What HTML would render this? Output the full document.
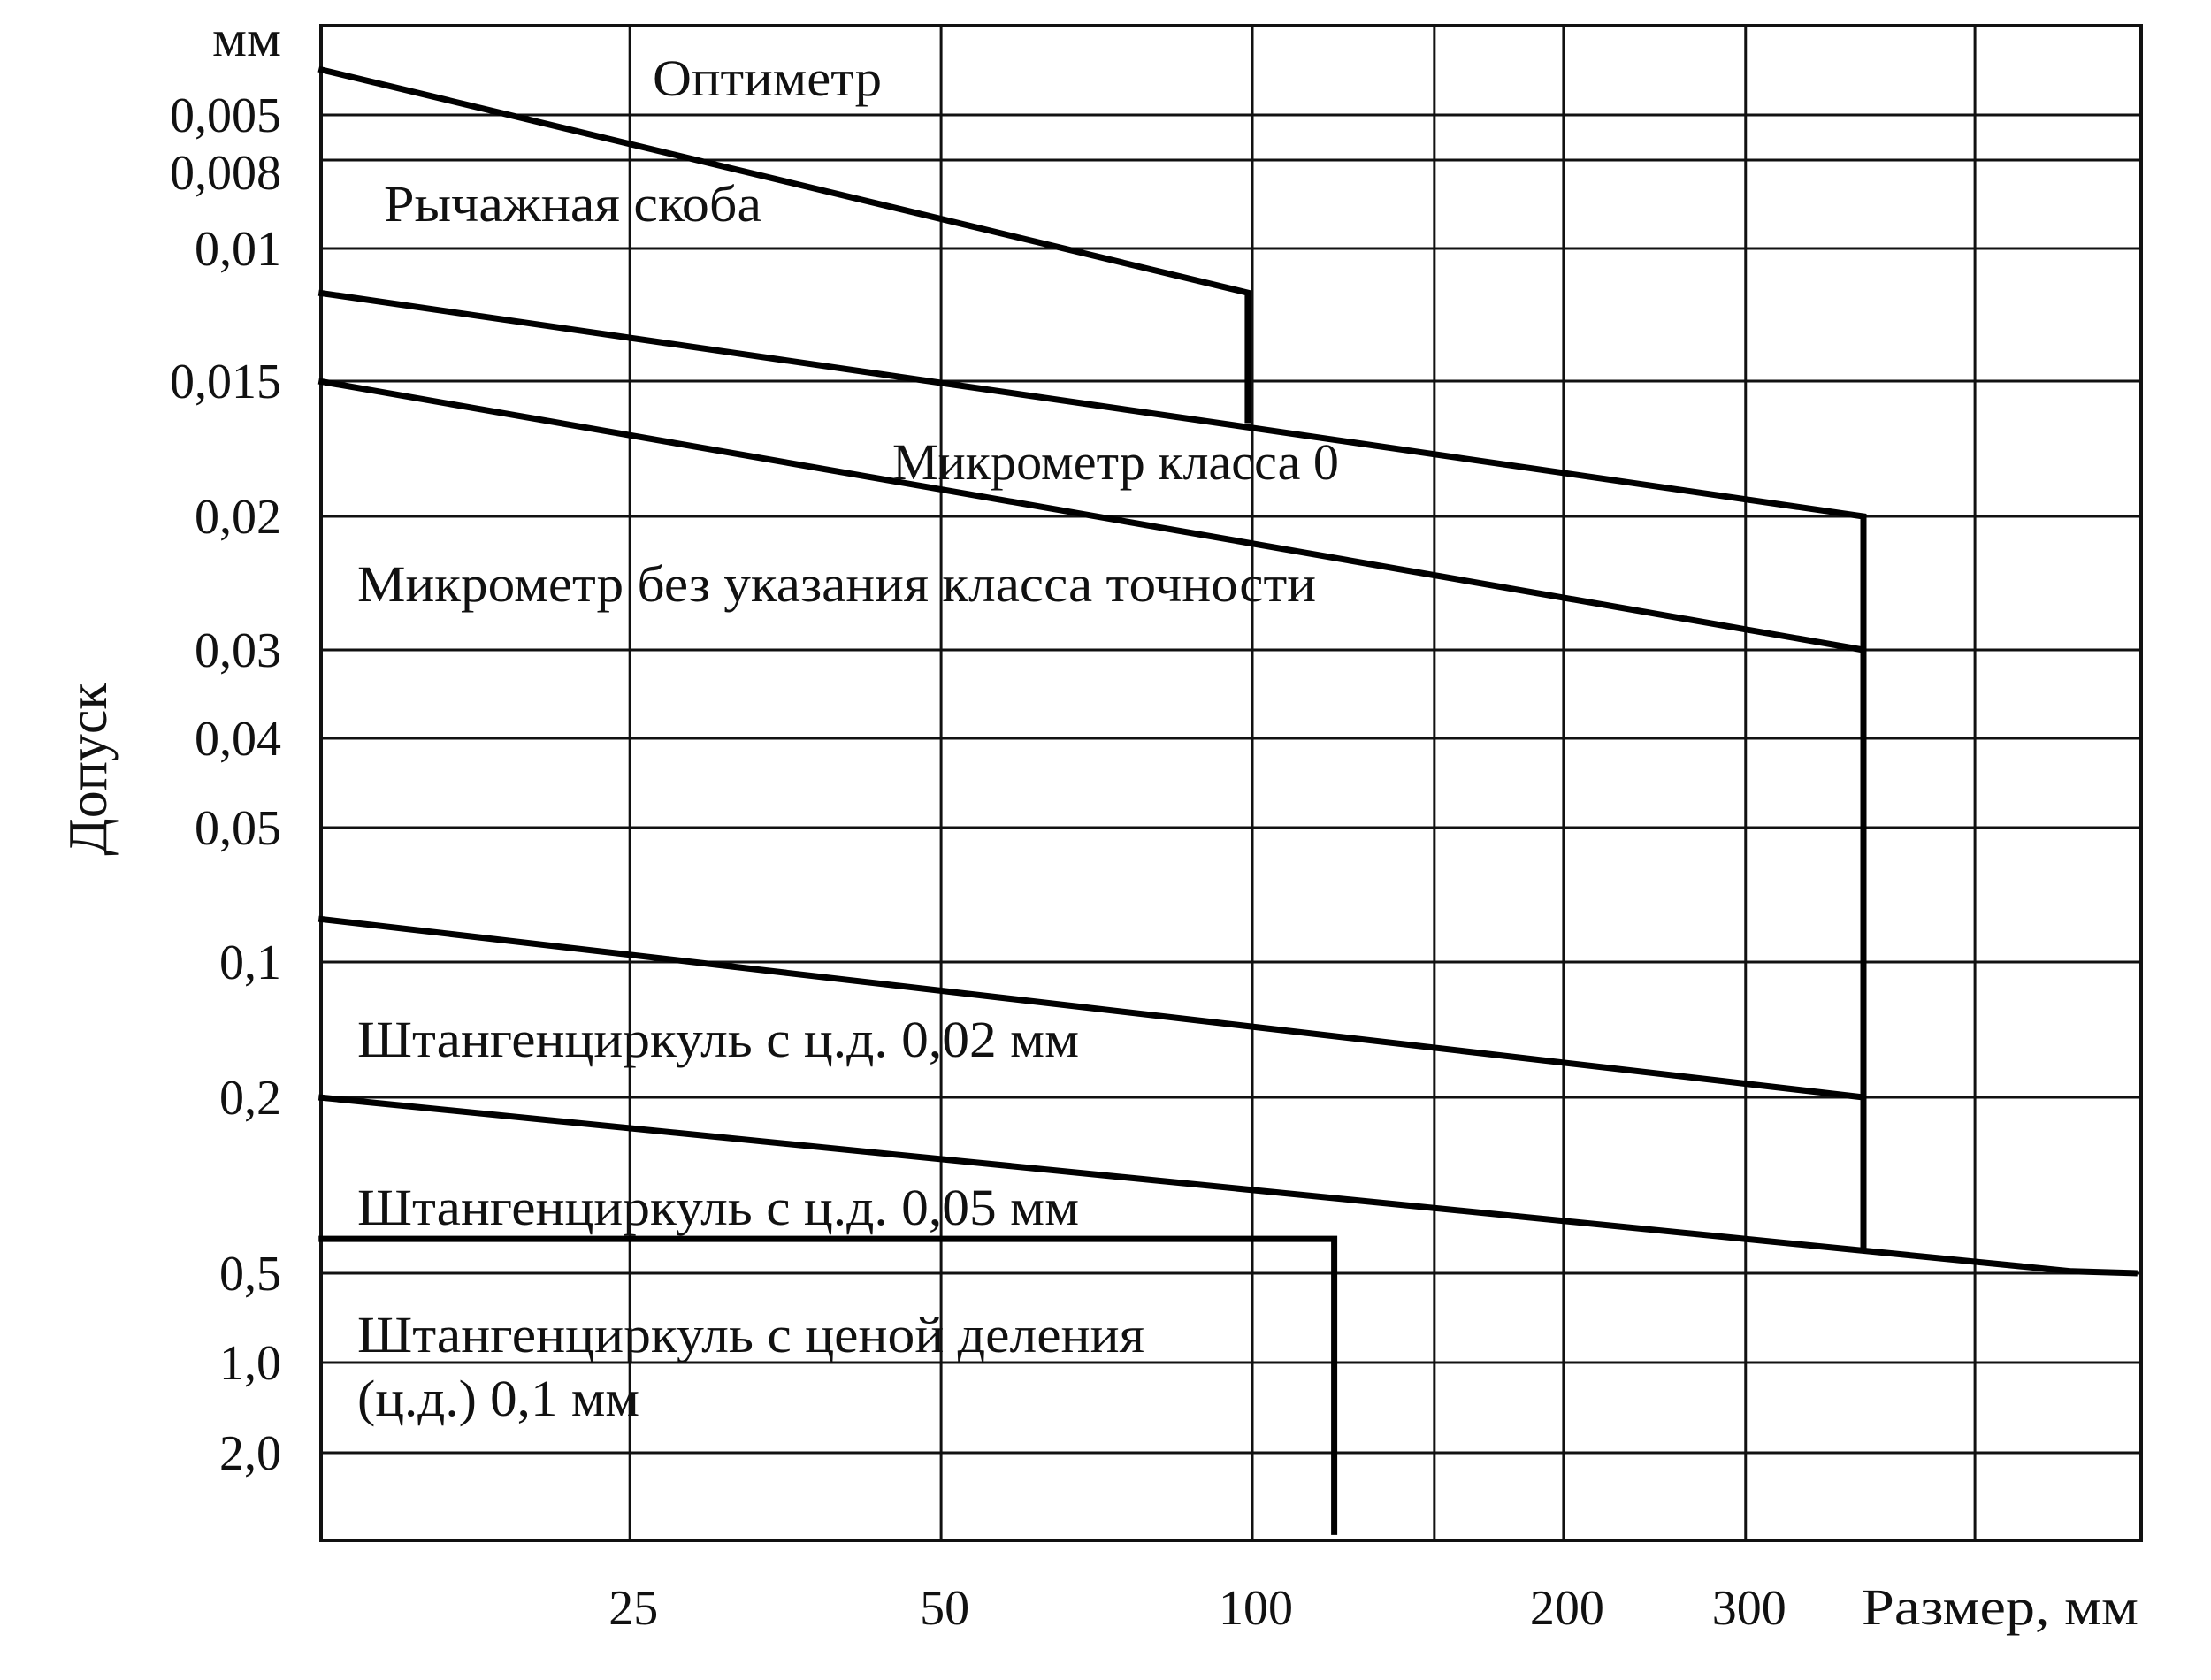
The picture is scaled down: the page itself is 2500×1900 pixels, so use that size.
<!DOCTYPE html>
<html><head><meta charset="utf-8">
<style>
html,body{margin:0;padding:0;background:#fff;}
svg{display:block;}
text{font-family:"Liberation Serif","Noto Serif CJK SC",serif;fill:#111;}
</style></head>
<body>
<svg id="chart" width="2500" height="1900" viewBox="0 0 2500 1900" xmlns="http://www.w3.org/2000/svg">
<rect width="2500" height="1900" fill="#fff"/>
<g id="grid"></g>
<g id="series"></g>
<g id="labels"></g>
</svg>
<script>
// ---- data ----
const yTickValues = [0.005, 0.008, 0.01, 0.015, 0.02, 0.03, 0.04, 0.05, 0.1, 0.2, 0.5, 1.0, 2.0];
const yTickLabels = ["0,005","0,008","0,01","0,015","0,02","0,03","0,04","0,05","0,1","0,2","0,5","1,0","2,0"];
const xGridValues = [25, 50, 100, 150, 200, 300, 500];
const xTickValues = [25, 50, 100, 200, 300];
const xTickLabels = ["25","50","100","200","300"];
const seriesNames = ["optimeter","lever-gauge-class0","micrometer-plain","caliper-002","caliper-005","caliper-01"];
const optimeterX = [12.5, 99, 99];
const optimeterY = [0.0031, 0.01145, 0.0164];
const micrometer0X = [12.5, 390, 390];
const micrometer0Y = [0.01145, 0.02, 0.44];
const micrometerX = [12.5, 390];
const micrometerY = [0.015, 0.03];
const caliper002X = [12.5, 390];
const caliper002Y = [0.08, 0.2];
const caliper005X = [12.5, 620, 718];
const caliper005Y = [0.2, 0.495, 0.5];
const caliper01X = [12.5, 120, 120];
const caliper01Y = [0.418, 0.418, 3.76];

// ---- layout (axis geometry) ----
const plotLeft = 363, plotRight = 2421, plotTop = 29, plotBottom = 1742;
const yAxisPixelAnchors = [130,181,281,431,584,735,835,936,1088,1241,1440,1541,1643];
const NS = "http://www.w3.org/2000/svg";

function xScale(v){ return 1416 + 1169*Math.log10(v/100); }
function yScale(v){
  const L = Math.log10(v), lv = yTickValues.map(Math.log10), p = yAxisPixelAnchors;
  let i = 0;
  if (L <= lv[0]) i = 0;
  else if (L >= lv[lv.length-1]) i = lv.length-2;
  else { while (!(L >= lv[i] && L <= lv[i+1])) i++; }
  return p[i] + (L - lv[i])/(lv[i+1]-lv[i])*(p[i+1]-p[i]);
}
function mk(tag, attrs, parent){
  const e = document.createElementNS(NS, tag);
  for (const k in attrs) e.setAttribute(k, attrs[k]);
  parent.appendChild(e); return e;
}
const grid = document.getElementById('grid');
const series = document.getElementById('series');
const labels = document.getElementById('labels');

// frame
const frame = mk('rect',{x:plotLeft,y:plotTop,width:plotRight-plotLeft,height:plotBottom-plotTop,fill:'none',stroke:'#111','stroke-width':4}, grid);



// horizontal grid
yTickValues.forEach((v,i)=>{
  const y = yScale(v);
  const l = mk('line',{x1:plotLeft,x2:plotRight,y1:y,y2:y,stroke:'#111','stroke-width':3}, grid);
  
  
  const t = mk('text',{x:318,y:y+19+(i===1?14:0),'text-anchor':'end','font-size':56}, labels);
  t.textContent = yTickLabels[i];
  
  
});
// vertical grid
xGridValues.forEach(v=>{
  const x = xScale(v);
  const l = mk('line',{x1:x,x2:x,y1:plotTop,y2:plotBottom,stroke:'#111','stroke-width':3}, grid);
  
  
});
xTickValues.forEach((v,i)=>{
  const t = mk('text',{x:xScale(v)+4,y:1837,'text-anchor':'middle','font-size':56}, labels);
  t.textContent = xTickLabels[i];
  
  
});

// series
const allX = [optimeterX, micrometer0X, micrometerX, caliper002X, caliper005X, caliper01X];
const allY = [optimeterY, micrometer0Y, micrometerY, caliper002Y, caliper005Y, caliper01Y];
allX.forEach((xs,k)=>{
  const pts = xs.map((xv,j)=>xScale(xv).toFixed(1)+','+yScale(allY[k][j]).toFixed(1)).join(' ');
  const p = mk('polyline',{points:pts,fill:'none',stroke:'#000','stroke-width':7,'stroke-linejoin':'miter'}, series);
  
  
});

// text labels
function lbl(txt, x, w, cy, name){
  const t = mk('text',{x:x,y:cy+20,'font-size':58,textLength:w,lengthAdjust:'spacingAndGlyphs'}, labels);
  t.textContent = txt;
  
  
}
lbl("Оптиметр", 738, 259, 88, 'label-optimeter');
lbl("Рычажная скоба", 434, 427, 230, 'label-lever-gauge');
lbl("Микрометр класса 0", 1009, 505, 522, 'label-micrometer-class0');
lbl("Микрометр без указания класса точности", 404, 1084, 660, 'label-micrometer-plain');
lbl("Штангенциркуль с ц.д. 0,02 мм", 404, 816, 1175, 'label-caliper-002');
lbl("Штангенциркуль с ц.д. 0,05 мм", 404, 816, 1365, 'label-caliper-005');
lbl("Штангенциркуль с ценой деления", 404, 890, 1509, 'label-caliper-01-line1');
lbl("(ц.д.) 0,1 мм", 404, 319, 1581, 'label-caliper-01-line2');
lbl("Размер, мм", 2105, 313, 1817, 'x-axis-title');
lbl("мм", 240, 78, 43, 'y-unit-label');

const yt = mk('text',{x:0,y:0,'font-size':62,'text-anchor':'middle',transform:'translate(120,870) rotate(-90)'}, labels);
yt.textContent = "Допуск";


</script>
</body></html>
